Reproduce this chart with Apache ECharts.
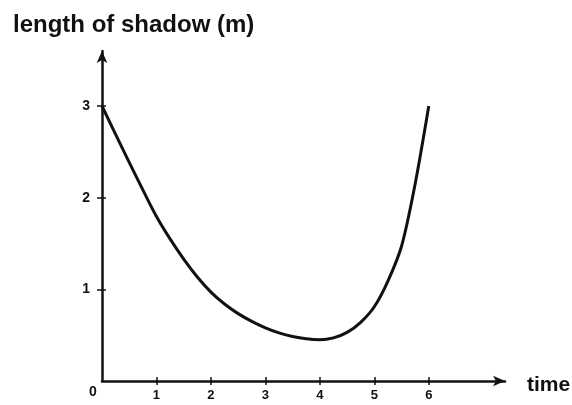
<!DOCTYPE html>
<html>
<head>
<meta charset="utf-8">
<script src="https://cdn.jsdelivr.net/npm/echarts@6/dist/echarts.min.js"></script>
<style>
  html, body { margin: 0; padding: 0; background: #fff; }
  #chart { width: 572px; height: 405px; }
</style>
</head>
<body>
<div id="chart"></div>
<script>
// Shadow length over the day
const timeValues   = [0, 0.25, 0.5, 0.75, 1, 1.25, 1.5, 1.75, 2, 2.25, 2.5, 2.75, 3,
                      3.25, 3.5, 3.75, 4, 4.25, 4.5, 4.75, 5, 5.25, 5.5, 5.75, 6];
const shadowLength = [3, 2.69, 2.385, 2.085, 1.795, 1.55, 1.33, 1.135, 0.97, 0.84, 0.735, 0.65, 0.58,
                      0.525, 0.485, 0.46, 0.45, 0.47, 0.53, 0.64, 0.81, 1.09, 1.47, 2.15, 3];
const xTickValues  = [1, 2, 3, 4, 5, 6];
const yTickValues  = [1, 2, 3];

const FONT = '"Liberation Sans", Arial, sans-serif';
const INK = '#111';

const chart = echarts.init(document.getElementById('chart'), null, { renderer: 'canvas' });

const baseX = {
  type: 'value', min: 0, max: 7.4,
  splitLine: { show: false }
};
const baseY = {
  type: 'value', min: 0, max: 3.6,
  splitLine: { show: false }
};

chart.setOption({
  animation: false,
  backgroundColor: '#fff',
  grid: { left: 102, right: 67, top: 51, bottom: 24 },
  title: [
    {
      text: 'length of shadow (m)', left: 8, top: 8,
      textStyle: { fontFamily: FONT, fontSize: 24, fontWeight: 'bold', color: INK }
    },
    {
      text: 'time', left: 522, top: 370,
      textStyle: { fontFamily: FONT, fontSize: 21, fontWeight: 'bold', color: INK }
    },
    {
      text: '0', left: 84, top: 380,
      textStyle: { fontFamily: FONT, fontSize: 14, fontWeight: 'bold', color: INK }
    }
  ],
  xAxis: [
    Object.assign({}, baseX, {
      axisLine: { show: true, symbol: ['none', 'arrow'], symbolSize: [8, 12],
                  lineStyle: { color: INK, width: 2.5 } },
      axisTick: { show: true, length: 4, customValues: xTickValues,
                  lineStyle: { color: INK, width: 1.5 } },
      axisLabel: { customValues: xTickValues, margin: 8,
                   fontFamily: FONT, fontSize: 13, fontWeight: 'bold', color: INK }
    }),
    Object.assign({}, baseX, {
      position: 'bottom',
      axisLine: { show: false },
      axisTick: { show: true, inside: true, length: 4, customValues: xTickValues,
                  lineStyle: { color: INK, width: 1.5 } },
      axisLabel: { show: false }
    })
  ],
  yAxis: [
    Object.assign({}, baseY, {
      axisLine: { show: true, symbol: ['none', 'arrow'], symbolSize: [8, 12],
                  lineStyle: { color: INK, width: 2.5 } },
      axisTick: { show: true, length: 5, customValues: yTickValues,
                  lineStyle: { color: INK, width: 1.5 } },
      axisLabel: { customValues: yTickValues, margin: 12,
                   fontFamily: FONT, fontSize: 14, fontWeight: 'bold', color: INK }
    }),
    Object.assign({}, baseY, {
      position: 'left',
      axisLine: { show: false },
      axisTick: { show: true, inside: true, length: 4, customValues: yTickValues,
                  lineStyle: { color: INK, width: 1.5 } },
      axisLabel: { show: false }
    })
  ],
  series: [{
    type: 'line',
    xAxisIndex: 0, yAxisIndex: 0,
    data: timeValues.map((t, i) => [t, shadowLength[i]]),
    smooth: 0.3,
    showSymbol: false,
    lineStyle: { color: INK, width: 3 }
  }]
});
</script>
</body>
</html>
